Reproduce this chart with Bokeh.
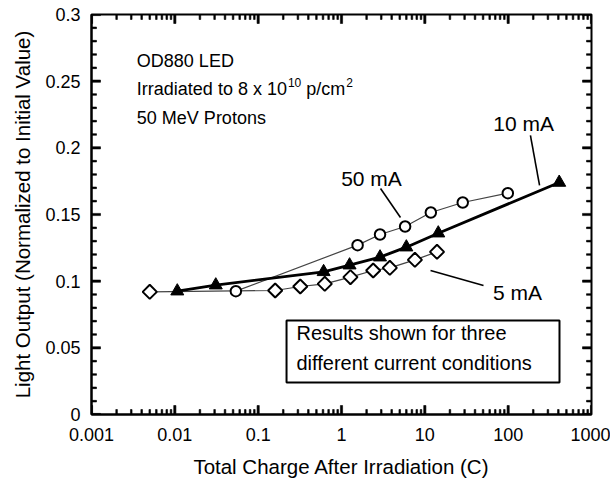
from math import pi
from bokeh.plotting import figure
from bokeh.models import Range1d, FixedTicker, CustomJSTickFormatter, Label, BoxAnnotation
from bokeh.embed import file_html
from bokeh.resources import INLINE

# ---------------- data ----------------
x_5mA = [0.005, 0.16, 0.32, 0.63, 1.28, 2.4, 3.8, 7.6, 14]
y_5mA = [0.092, 0.093, 0.096, 0.098, 0.103, 0.108, 0.110, 0.116, 0.122]

x_10mA = [0.0107, 0.031, 0.61, 1.25, 2.9, 6.0, 14.5, 410]
y_10mA = [0.0925, 0.097, 0.107, 0.112, 0.118, 0.1255, 0.136, 0.174]

x_50mA = [0.054, 1.56, 2.9, 5.8, 11.8, 28.5, 99]
y_50mA = [0.0925, 0.127, 0.135, 0.141, 0.1515, 0.159, 0.166]

x_ticks = [0.001, 0.01, 0.1, 1, 10, 100, 1000]
x_tick_labels = ["0.001", "0.01", "0.1", "1", "10", "100", "1000"]
y_ticks = [0, 0.05, 0.1, 0.15, 0.2, 0.25, 0.3]
y_tick_labels = ["0", "0.05", "0.1", "0.15", "0.2", "0.25", "0.3"]

x_title = "Total Charge After Irradiation (C)"
y_title = "Light Output (Normalized to Initial Value)"

series_labels = ["10 mA", "50 mA", "5 mA"]
series_label_x = [153, 2.29, 129]
series_label_y = [0.2183, 0.177, 0.0915]
leader_x0 = [185, 2.94, 50.6]
leader_y0 = [0.2093, 0.1695, 0.0968]
leader_x1 = [238, 5.1, 11.7]
leader_y1 = [0.1718, 0.1478, 0.108]

info_lines = ["OD880 LED", "Irradiated to 8 x 10", "50 MeV Protons"]
box_lines = ["Results shown for three", "different current conditions"]

FONT = "Liberation Sans"
X0, X1 = 0.001, 1000
Y0, Y1 = 0.0, 0.3

# ---------------- figure ----------------
p = figure(width=610, height=487, x_axis_type="log",
           x_range=Range1d(X0, X1), y_range=Range1d(Y0, Y1),
           output_backend="svg", toolbar_location=None,
           min_border_left=91, min_border_right=19, min_border_top=14, min_border_bottom=73)
p.grid.visible = False
p.outline_line_color = "black"
p.outline_line_width = 2
p.background_fill_color = "white"
p.border_fill_color = "white"

x_minor = [m * 10.0 ** e for e in range(-3, 3) for m in range(2, 10)]
y_minor = [i / 100 for i in range(0, 31) if i % 5 != 0]

for ax, ticks, labels in ((p.xaxis[0], x_ticks, x_tick_labels), (p.yaxis[0], y_ticks, y_tick_labels)):
    ax.ticker = FixedTicker(ticks=ticks, minor_ticks=[])
    ax.formatter = CustomJSTickFormatter(args=dict(labels=labels), code="return labels[index];")
    ax.axis_line_color = "black"
    ax.axis_line_width = 2
    ax.major_tick_line_color = None
    ax.minor_tick_line_color = None
    ax.major_tick_in = 0
    ax.major_tick_out = 0
    ax.minor_tick_in = 0
    ax.minor_tick_out = 0
    ax.major_label_text_font = FONT
    ax.major_label_text_font_size = "18px"
    ax.major_label_text_color = "black"
    ax.axis_label_text_font = FONT
    ax.axis_label_text_font_style = "normal"
    ax.axis_label_text_font_size = "20.5px"
    ax.axis_label_text_color = "black"

p.xaxis[0].axis_label = x_title
p.xaxis[0].major_label_standoff = 13
p.xaxis[0].axis_label_standoff = 11
p.yaxis[0].axis_label = y_title
p.yaxis[0].major_label_standoff = 11
p.yaxis[0].axis_label_standoff = 8

# inward ticks drawn as thin filled bars (lengths / widths in pixels -> data units)
ppd_x = 500 / 6.0
ppu_y = 400 / (Y1 - Y0)
maj_len, min_len = 9, 5
maj_w, min_w = 2.2, 1.6
L, R, B, T = [], [], [], []
for ticks, ln, w in ((x_ticks, maj_len, maj_w), (x_minor, min_len, min_w)):
    hw = 10 ** (w / 2 / ppd_x)
    dy = ln / ppu_y
    for t in ticks:
        L += [t / hw, t / hw]
        R += [t * hw, t * hw]
        B += [Y0, Y1 - dy]
        T += [Y0 + dy, Y1]
for ticks, ln, w in ((y_ticks, maj_len, maj_w), (y_minor, min_len, min_w)):
    f = 10 ** (ln / ppd_x)
    hh = w / 2 / ppu_y
    for t in ticks:
        L += [X0, X1 / f]
        R += [X0 * f, X1]
        B += [t - hh, t - hh]
        T += [t + hh, t + hh]
p.quad(left=L, right=R, bottom=B, top=T, fill_color="black", line_color="black", line_width=0.6)

# ---------------- series ----------------
p.line(x_5mA, y_5mA, line_color="#444444", line_width=1.2)
p.line(x_50mA, y_50mA, line_color="#444444", line_width=1.2)
p.line(x_10mA, y_10mA, line_color="black", line_width=2.8)

p.scatter(x_5mA, y_5mA, marker="square", angle=pi / 4, size=10,
          fill_color="white", line_color="black", line_width=2)
p.scatter(x_50mA, y_50mA, marker="circle", size=10.5,
          fill_color="white", line_color="black", line_width=2)
p.scatter(x_10mA, y_10mA, marker="triangle", size=13,
          fill_color="black", line_color="black", line_width=1)

# leader lines and series labels
p.segment(x0=leader_x0, y0=leader_y0, x1=leader_x1, y1=leader_y1, line_color="black", line_width=1.6)
for t, lx, ly in zip(series_labels, series_label_x, series_label_y):
    p.add_layout(Label(x=lx, y=ly, text=t, text_font=FONT, text_font_size="21px",
                       text_align="center", text_baseline="middle", text_color="black"))

# info block (upper-left)
info_x = 0.0035
info_y = [0.2655, 0.2445, 0.2225]
fs = 18
sup_fs = 12


def lab(text, y, xo=0, yo=0, size=fs):
    p.add_layout(Label(x=info_x, y=y, x_offset=xo, y_offset=yo, text=text, text_font=FONT,
                       text_font_size=f"{size}px", text_baseline="middle", text_color="black"))


lab(info_lines[0], info_y[0])
lab(info_lines[1], info_y[1])
w1 = 8.338 * fs + 1
lab("10", info_y[1], xo=w1, yo=6, size=sup_fs)
w2 = w1 + 1.112 * sup_fs + 0.278 * fs
lab("p/cm", info_y[1], xo=w2)
w3 = w2 + 2.167 * fs + 1
lab("2", info_y[1], xo=w3, yo=6, size=sup_fs)
lab(info_lines[2], info_y[2])

# text box (lower-right)
p.add_layout(BoxAnnotation(left=0.219, right=413, bottom=0.024, top=0.0705,
                           fill_color="white", fill_alpha=1.0,
                           line_color="black", line_alpha=1.0, line_width=2))
box_text_y = [0.0615, 0.0383]
for t, ty in zip(box_lines, box_text_y):
    p.add_layout(Label(x=0.288, y=ty, text=t, text_font=FONT, text_font_size="20px",
                       text_baseline="middle", text_color="black"))

open("out.html", "w").write(file_html(p, INLINE))
